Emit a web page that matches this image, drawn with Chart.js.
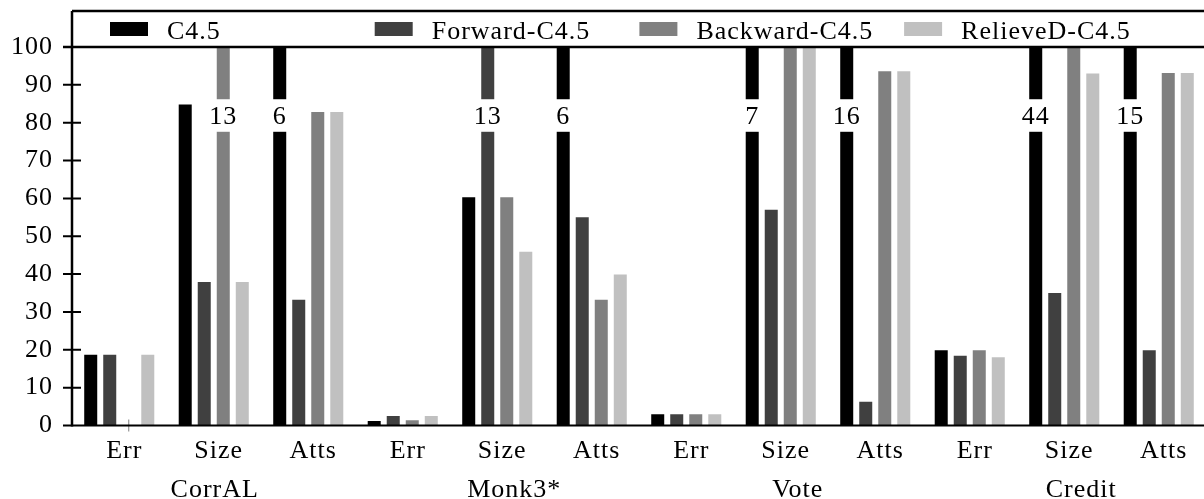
<!DOCTYPE html>
<html lang="en">
<head>
<meta charset="UTF-8">
<title>C4.5 feature selection</title>
<script src="https://cdn.jsdelivr.net/npm/chart.js"></script>
<style>
  html, body { margin: 0; padding: 0; overflow: hidden; background: #fff; }
  #wrap { position: relative; width: 1206px; height: 499px; }
</style>
</head>
<body>
<div id="wrap"><canvas id="chart"></canvas></div>
<script>
// categories along the x axis, three per data set
const categories = ['Err', 'Size', 'Atts', 'Err', 'Size', 'Atts', 'Err', 'Size', 'Atts', 'Err', 'Size', 'Atts'];
const groups = ['CorrAL', 'Monk3*', 'Vote', 'Credit'];
const seriesNames = ['C4.5', 'Forward-C4.5', 'Backward-C4.5', 'RelieveD-C4.5'];

// bars that run off the top are kept at 100, their real value goes in the *Over arrays
const c45      = [18.7, 84.8, 100, 1.2, 60.3, 100, 3.0, 100, 100, 19.9, 100, 100];
const forward  = [18.7, 37.9, 33.2, 2.5, 100, 55.0, 3.0, 57.0, 6.3, 18.4, 35.0, 19.9];
const backward = [0, 100, 82.8, 1.4, 60.3, 33.2, 3.0, 100, 93.6, 19.9, 100, 93.1];
const relieved = [18.7, 37.9, 82.8, 2.5, 45.9, 39.9, 3.0, 100, 93.6, 18.0, 93.0, 93.1];

const c45Over      = [null, null, '6', null, null, '6', null, '7', '16', null, '44', '15'];
const forwardOver  = [null, null, null, null, '13', null, null, null, null, null, null, null];
const backwardOver = [null, '13', null, null, null, null, null, null, null, null, null, null];
const relievedOver = [null, null, null, null, null, null, null, null, null, null, null, null];

const yTicks = [0, 10, 20, 30, 40, 50, 60, 70, 80, 90, 100];

const FONT = { family: "'Liberation Serif', serif", size: 26 };
Chart.defaults.font.family = FONT.family;

const colors = ['#000000', '#404040', '#808080', '#c0c0c0'];
const overLabels = [c45Over, forwardOver, backwardOver, relievedOver];

// frame, crossing ticks, custom legend and group names
const framePlugin = {
    id: 'frame',
    beforeDraw(chart) {
        // the original typeface runs a bit wider than Liberation Serif
        chart.ctx.letterSpacing = '1px';
    },
    afterDatasetsDraw(chart) {
        const ctx = chart.ctx;
        const area = chart.chartArea;
        const y = chart.scales.y;
        const x = chart.scales.x;
        ctx.save();
        ctx.letterSpacing = '1px';

        // over-range labels sitting in a white gap on the bar
        ctx.font = `${FONT.size}px ${FONT.family}`;
        ctx.fillStyle = '#000';
        ctx.textAlign = 'center';
        ctx.textBaseline = 'alphabetic';
        chart.data.datasets.forEach((ds, i) => {
            chart.getDatasetMeta(i).data.forEach((bar, j) => {
                const lbl = overLabels[i][j];
                if (lbl) {
                    const top = y.getPixelForValue(86.2);
                    const bot = y.getPixelForValue(77.6);
                    ctx.fillStyle = '#fff';
                    ctx.fillRect(bar.x - bar.width / 2 - 1, top, bar.width + 2, bot - top);
                    ctx.fillStyle = '#000';
                    ctx.fillText(lbl, bar.x, y.getPixelForValue(79.6));
                }
                if (ds.data[j] === 0) {
                    ctx.strokeStyle = '#808080';
                    ctx.lineWidth = 1;
                    ctx.beginPath();
                    ctx.moveTo(bar.x, area.bottom - 6);
                    ctx.lineTo(bar.x, area.bottom + 6);
                    ctx.stroke();
                }
            });
        });

        // axes and legend box
        ctx.strokeStyle = '#000';
        ctx.lineWidth = 2.5;
        ctx.beginPath();
        ctx.moveTo(area.left, 11);
        ctx.lineTo(area.left, area.bottom + 1);
        ctx.moveTo(area.left, 11);
        ctx.lineTo(area.right, 11);
        ctx.moveTo(area.left - 9, area.top);
        ctx.lineTo(area.right, area.top);
        ctx.stroke();
        ctx.lineWidth = 2;
        ctx.beginPath();
        ctx.moveTo(area.left - 9, area.bottom);
        ctx.lineTo(area.right, area.bottom);
        yTicks.forEach(v => {
            const py = y.getPixelForValue(v);
            ctx.moveTo(area.left - 9, py);
            ctx.lineTo(area.left + 9, py);
        });
        ctx.stroke();

        // legend in equal columns
        ctx.textAlign = 'left';
        chart.data.datasets.forEach((ds, i) => {
            const lx = area.left + 38 + i * 264.7;
            ctx.fillStyle = ds.backgroundColor;
            ctx.fillRect(lx, 22, 38, 14);
            ctx.fillStyle = '#000';
            ctx.fillText(ds.label, lx + 57, 39);
        });

        // data set names under the tick labels
        const shift = [1, 17, 17, 17];
        ctx.textAlign = 'center';
        groups.forEach((g, k) => {
            ctx.fillText(g, x.getPixelForValue(3 * k + 1) + shift[k], 497);
        });
        ctx.restore();
    }
};

const seriesData = [c45, forward, backward, relieved];

new Chart(document.getElementById('chart'), {
    type: 'bar',
    data: {
        labels: categories,
        datasets: seriesNames.map((name, i) => ({
            label: name,
            data: seriesData[i],
            backgroundColor: colors[i],
            borderWidth: 0,
            categoryPercentage: 0.805,
            barPercentage: 0.684
        }))
    },
    options: {
        responsive: true,
        maintainAspectRatio: false,
        animation: false,
        layout: { padding: { top: 47, left: 0, right: 0, bottom: 0 } },
        plugins: {
            legend: { display: false },
            tooltip: { enabled: false }
        },
        scales: {
            x: {
                grid: { display: false, drawTicks: false },
                border: { display: false },
                ticks: { font: FONT, color: '#000', padding: 10, labelOffset: 5, maxRotation: 0, autoSkip: false },
                afterFit: s => { s.height = 73.5; }
            },
            y: {
                min: 0,
                max: 100,
                grid: { display: false, drawTicks: true, tickLength: 9 },
                border: { display: false },
                ticks: { stepSize: 10, font: FONT, color: '#000', padding: 10 },
                afterFit: s => { s.width = 72; }
            }
        }
    },
    plugins: [framePlugin]
});
</script>
</body>
</html>
